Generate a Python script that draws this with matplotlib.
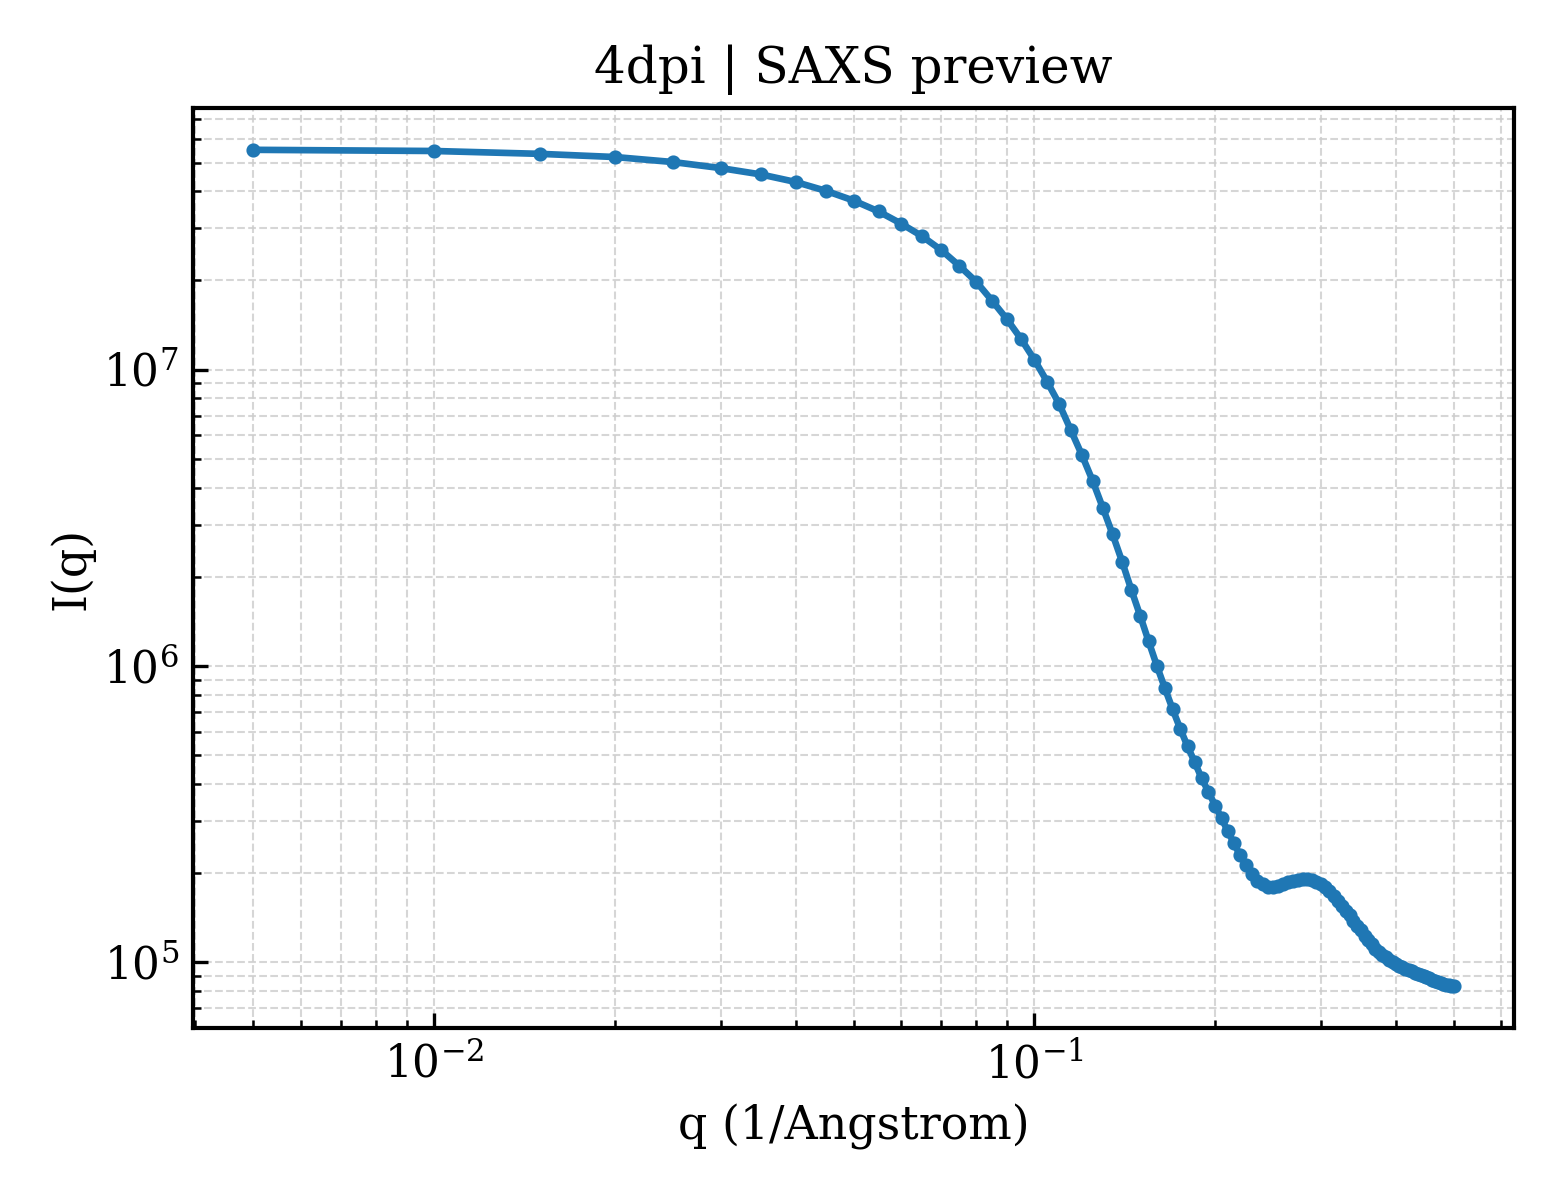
import numpy as np
import matplotlib
matplotlib.use("Agg")
import matplotlib.pyplot as plt

q = [0.005, 0.010, 0.015, 0.020, 0.025, 0.030, 0.035, 0.040, 0.045, 0.050,
     0.055, 0.060, 0.065, 0.070, 0.075, 0.080, 0.085, 0.090, 0.095, 0.100,
     0.105, 0.110, 0.115, 0.120, 0.125, 0.130, 0.135, 0.140, 0.145, 0.150,
     0.155, 0.160, 0.165, 0.170, 0.175, 0.180, 0.185, 0.190, 0.195, 0.200,
     0.205, 0.210, 0.215, 0.220, 0.225, 0.230, 0.235, 0.240, 0.245, 0.250,
     0.255, 0.260, 0.265, 0.270, 0.275, 0.280, 0.285, 0.290, 0.295, 0.300,
     0.305, 0.310, 0.315, 0.320, 0.325, 0.330, 0.335, 0.340, 0.345, 0.350,
     0.355, 0.360, 0.365, 0.370, 0.375, 0.380, 0.385, 0.390, 0.395, 0.400,
     0.405, 0.410, 0.415, 0.420, 0.425, 0.430, 0.435, 0.440, 0.445, 0.450,
     0.455, 0.460, 0.465, 0.470, 0.475, 0.480, 0.485, 0.490, 0.495, 0.500]

intensity = [5.52e7, 5.47e7, 5.35e7, 5.22e7, 5.02e7, 4.79e7, 4.56e7, 4.30e7, 4.01e7, 3.72e7,
             3.42e7, 3.11e7, 2.82e7, 2.53e7, 2.24e7, 1.98e7, 1.71e7, 1.48e7, 1.27e7, 1.08e7,
             9.11e6, 7.65e6, 6.25e6, 5.15e6, 4.22e6, 3.42e6, 2.78e6, 2.25e6, 1.81e6, 1.48e6,
             1.21e6, 1.00e6, 8.40e5, 7.13e5, 6.13e5, 5.35e5, 4.73e5, 4.17e5, 3.76e5, 3.38e5,
             3.06e5, 2.77e5, 2.52e5, 2.30e5, 2.13e5, 1.99e5, 1.88e5, 1.83e5, 1.80e5, 1.80e5,
             1.81e5, 1.83e5, 1.86e5, 1.88e5, 1.90e5, 1.91e5, 1.91e5, 1.90e5, 1.87e5, 1.83e5,
             1.79e5, 1.74e5, 1.67e5, 1.61e5, 1.55e5, 1.49e5, 1.44e5, 1.38e5, 1.33e5, 1.28e5,
             1.23e5, 1.19e5, 1.15e5, 1.11e5, 1.08e5, 1.06e5, 1.04e5, 1.016e5, 1.00e5, 9.85e4,
             9.73e4, 9.62e4, 9.52e4, 9.43e4, 9.32e4, 9.23e4, 9.15e4, 9.07e4, 9.00e4, 8.90e4,
             8.83e4, 8.74e4, 8.66e4, 8.59e4, 8.53e4, 8.46e4, 8.40e4, 8.36e4, 8.33e4, 8.30e4]

plt.rcParams["font.family"] = "DejaVu Serif"
plt.rcParams["mathtext.fontset"] = "dejavuserif"

fig = plt.figure(figsize=(5.2, 4), dpi=300)
ax = fig.add_axes([0.124, 0.1433, 0.8465, 0.7667])

ax.plot(q, intensity, "-o", color="#1f77b4", linewidth=1.6, markersize=2.4)
ax.set_xscale("log")
ax.set_yscale("log")

ax.set_title("4dpi | SAXS preview", fontsize=12)
ax.set_xlabel("q (1/Angstrom)", fontsize=11)
ax.set_ylabel("I(q)", fontsize=11, labelpad=2)

ax.tick_params(which="both", direction="in", labelsize=10.5)
for sp in ax.spines.values():
    sp.set_linewidth(1.0)

ax.grid(True, which="both", linestyle="--", linewidth=0.5, color="#cccccc", alpha=0.8)

fig.savefig("out.png", dpi=300)
